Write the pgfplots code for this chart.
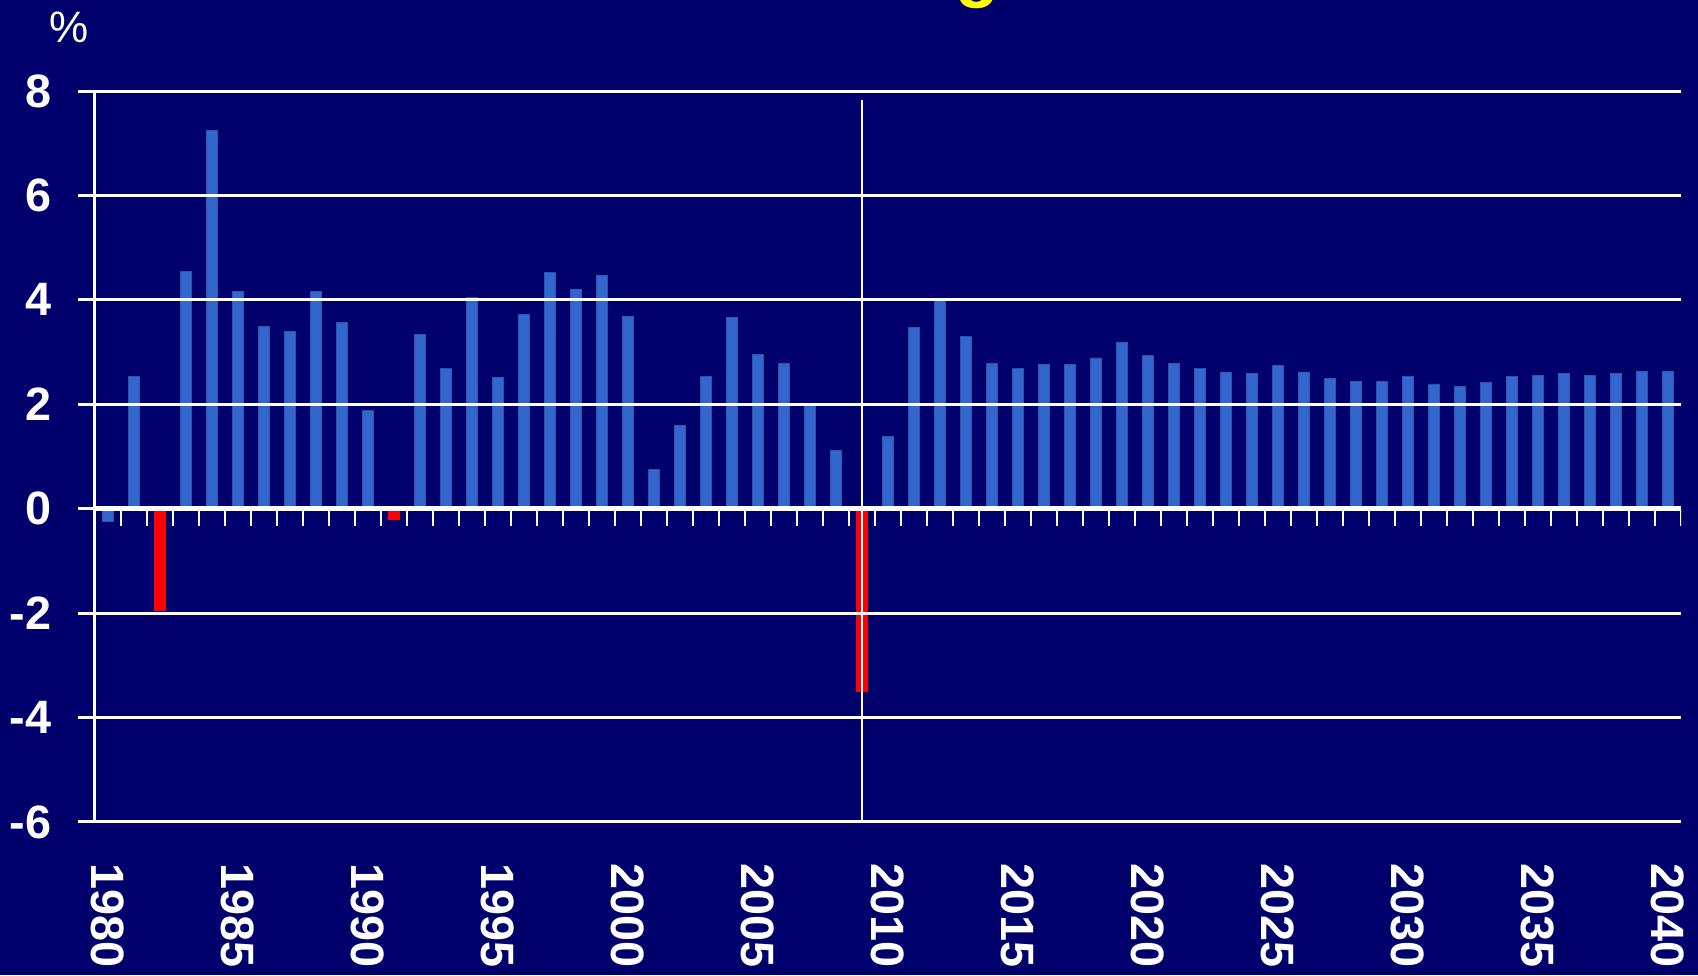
\documentclass[border=0pt]{standalone}
\usepackage{pgfplots}
\usepackage{pgfplotstable}
\pgfplotsset{compat=1.18}
\usepackage{fontspec}
\setmainfont{Liberation Sans}
\definecolor{bg}{RGB}{0,0,108}
\definecolor{barblue}{RGB}{51,102,204}
\definecolor{barred}{RGB}{255,0,0}
\definecolor{ttl}{RGB}{255,255,0}

\pgfplotstableread{
year val
1980 -0.25
1981 2.53
1983 4.55
1984 7.25
1985 4.16
1986 3.49
1987 3.39
1988 4.16
1989 3.57
1990 1.89
1992 3.34
1993 2.68
1994 4.04
1995 2.51
1996 3.72
1997 4.53
1998 4.21
1999 4.48
2000 3.69
2001 0.75
2002 1.59
2003 2.53
2004 3.67
2005 2.95
2006 2.79
2007 2.02
2008 1.11
2010 1.38
2011 3.48
2012 4.03
2013 3.30
2014 2.79
2015 2.69
2016 2.76
2017 2.76
2018 2.89
2019 3.18
2020 2.94
2021 2.79
2022 2.69
2023 2.62
2024 2.59
2025 2.74
2026 2.62
2027 2.49
2028 2.44
2029 2.44
2030 2.54
2031 2.39
2032 2.34
2033 2.42
2034 2.54
2035 2.56
2036 2.59
2037 2.56
2038 2.59
2039 2.64
2040 2.64
}\bluedata

\pgfplotstableread{
year val
1982 -1.95
1991 -0.20
2009 -3.50
}\reddata

\begin{document}
\begin{tikzpicture}[x=1pt,y=1pt]
\useasboundingbox (0,0) rectangle (849,487.5);
\fill[bg] (0,0) rectangle (849,487.5);
\begin{scope}
\clip (0,0) rectangle (849,487.5);
\node[text=ttl, font=\fontsize{36}{42}\selectfont\bfseries, anchor=base, inner sep=0pt] at (488.5,490.5) {g};
\end{scope}
\node[text=white, font=\fontsize{22}{26}\selectfont, anchor=center, inner sep=0pt] at (34.5,474) {\%};
\begin{axis}[
  at={(47.5pt,76.5pt)}, anchor=south west,
  scale only axis, width=793pt, height=365.5pt,
  xmin=1979.5, xmax=2040.5, ymin=-6, ymax=8,
  axis x line*=bottom, axis y line*=left,
  axis line style={white, line width=1.5pt, -},
  x axis line style={-}, y axis line style={-},
  ytick={-6,-4,...,8}, yticklabels={-6,-4,-2,0,2,4,6,8},
  ymajorgrids, grid style={white, line width=1.5pt},
  extra y ticks={0}, extra y tick labels={},
  extra y tick style={grid style={white, line width=2.6pt}},
  tick align=outside, major tick length=8.5pt,
  tick style={white, line width=1.5pt},
  every y tick/.append style={white, line width=1.5pt},
  xtick={1980,1985,...,2040},
  xticklabels={1980,1985,1990,1995,2000,2005,2010,2015,2020,2025,2030,2035,2040},
  every x tick/.append style={draw=none},
  xticklabel style={rotate=-90, anchor=west, inner sep=0pt, text=white, xshift=0pt, yshift=0pt,
    font=\fontsize{23.4}{28}\selectfont\bfseries},
  xticklabel shift=12pt,
  yticklabel style={anchor=east, inner sep=0pt, text=white,
    font=\fontsize{23.4}{28}\selectfont\bfseries},
  yticklabel shift=13pt,
  axis on top,
]
\addplot[ybar, bar shift=0pt, bar width=0.44, fill=barblue, draw=barblue!85!black, line width=0.3pt] table[x=year, y=val] {\bluedata};
\addplot[ybar, bar shift=0pt, bar width=0.44, fill=barred, draw=barred, line width=0.3pt] table[x=year, y=val] {\reddata};
\draw[white, line width=1pt] (axis cs:2009,7.83) -- (axis cs:2009,-6);
\pgfplotsinvokeforeach{1979,...,2040}{
  \draw[white, line width=1.3pt] (axis cs:#1.5,0) -- (axis cs:#1.5,-0.33);
}
\end{axis}
\end{tikzpicture}
\end{document}
